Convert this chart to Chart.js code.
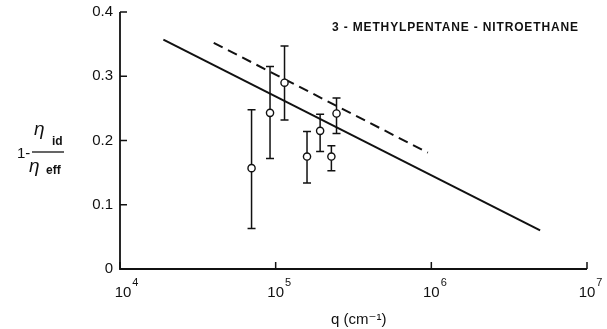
<!DOCTYPE html>
<html>
<head>
<meta charset="utf-8">
<script src="https://cdn.jsdelivr.net/npm/chart.js@4.4.1/dist/chart.umd.min.js"></script>
<style>
html,body{margin:0;padding:0;background:#fff;}
#wrap{width:607px;height:329px;position:relative;}
</style>
</head>
<body>
<div id="wrap"><canvas id="c" width="607" height="329"></canvas></div>
<script>
// Measured points: q (cm^-1) and 1 - eta_id/eta_eff, with error bar limits
const qValues   = [7.0e4, 9.2e4, 1.14e5, 1.59e5, 1.93e5, 2.28e5, 2.46e5];
const yValues   = [0.157, 0.243, 0.290, 0.175, 0.215, 0.175, 0.242];
const yUpper    = [0.248, 0.315, 0.347, 0.214, 0.241, 0.192, 0.266];
const yLower    = [0.063, 0.172, 0.232, 0.134, 0.183, 0.153, 0.211];
// Theory lines (end points)
const solidQ    = [1.9e4, 5.0e6];
const solidY    = [0.357, 0.060];
const dashedQ   = [4.0e4, 9.5e5];
const dashedY   = [0.352, 0.181];
// Axis ticks
const xTickExps = [4, 5, 6, 7];
const yTicks    = [0, 0.1, 0.2, 0.3, 0.4];
const yTickLabels = ['0', '0.1', '0.2', '0.3', '0.4'];
const chartTitle = '3 - METHYLPENTANE - NITROETHANE';
const xTitle = 'q (cm⁻¹)';

const FONT = '"Liberation Sans", "DejaVu Sans", sans-serif';
const INK = '#111';

const decor = {
  id: 'decor',
  beforeDatasetsDraw(chart) {
    const ctx = chart.ctx, xs = chart.scales.x, ys = chart.scales.y;
    ctx.save();
    ctx.strokeStyle = INK; ctx.lineWidth = 1.5;
    for (let i = 0; i < qValues.length; i++) {
      const px = xs.getPixelForValue(qValues[i]);
      const pt = ys.getPixelForValue(yUpper[i]);
      const pb = ys.getPixelForValue(yLower[i]);
      ctx.beginPath();
      ctx.moveTo(px, pt); ctx.lineTo(px, pb);
      ctx.moveTo(px - 4, pt); ctx.lineTo(px + 4, pt);
      ctx.moveTo(px - 4, pb); ctx.lineTo(px + 4, pb);
      ctx.stroke();
    }
    ctx.restore();
  },
  afterDraw(chart) {
    const ctx = chart.ctx, xs = chart.scales.x, ys = chart.scales.y;
    const a = chart.chartArea;
    ctx.save();
    ctx.strokeStyle = INK; ctx.fillStyle = INK; ctx.lineWidth = 1.8;
    // axes (left and bottom)
    ctx.beginPath();
    ctx.moveTo(a.left, a.top); ctx.lineTo(a.left, a.bottom); ctx.lineTo(a.right, a.bottom);
    ctx.stroke();
    // inside ticks
    ctx.lineWidth = 1.5;
    ctx.beginPath();
    yTicks.forEach(v => { const p = ys.getPixelForValue(v); ctx.moveTo(a.left, p); ctx.lineTo(a.left + 7, p); });
    xTickExps.forEach(e => { const p = xs.getPixelForValue(Math.pow(10, e)); ctx.moveTo(p, a.bottom); ctx.lineTo(p, a.bottom - 7); });
    ctx.stroke();
    // y tick labels
    ctx.font = '15px ' + FONT;
    ctx.textAlign = 'right'; ctx.textBaseline = 'middle';
    yTicks.forEach((v, i) => ctx.fillText(yTickLabels[i], a.left - 7, ys.getPixelForValue(v)));
    // x tick labels 10^n
    xTickExps.forEach((e, i) => {
      const p = xs.getPixelForValue(Math.pow(10, e)) + (i === 0 ? 3 : 0);
      ctx.font = '15px ' + FONT; ctx.textAlign = 'center'; ctx.textBaseline = 'alphabetic';
      ctx.fillText('10', p, a.bottom + 28);
      const w = ctx.measureText('10').width;
      ctx.font = '11px ' + FONT; ctx.textAlign = 'left';
      ctx.fillText(String(e), p + w / 2 + 1, a.bottom + 17);
    });
    // x axis title
    ctx.font = '15px ' + FONT; ctx.textAlign = 'left'; ctx.textBaseline = 'alphabetic';
    ctx.fillText(xTitle, 331, 324);
    // chart title
    ctx.font = 'bold 12px ' + FONT;
    const tw = ctx.measureText(chartTitle).width;
    const target = 246;
    ctx.letterSpacing = ((target - tw) / (chartTitle.length - 1)).toFixed(2) + 'px';
    ctx.textAlign = 'left';
    ctx.fillText(chartTitle, 332, 31);
    ctx.letterSpacing = '0px';
    // y axis title: 1 - eta_id / eta_eff
    ctx.font = '15px ' + FONT; ctx.textBaseline = 'middle';
    ctx.fillText('1-', 17, 154);
    ctx.lineWidth = 1.3;
    ctx.beginPath(); ctx.moveTo(32, 152); ctx.lineTo(64, 152); ctx.stroke();
    ctx.textBaseline = 'alphabetic';
    ctx.font = 'italic 19px ' + FONT;
    ctx.fillText('η', 34, 135);
    ctx.fillText('η', 29, 172);
    ctx.font = 'bold 12px ' + FONT;
    ctx.fillText('id', 52, 145);
    ctx.fillText('eff', 46, 174);
    ctx.restore();
  }
};

new Chart(document.getElementById('c'), {
  type: 'scatter',
  data: {
    datasets: [
      {
        label: 'data',
        data: qValues.map((q, i) => ({ x: q, y: yValues[i] })),
        pointRadius: 3.6, pointHoverRadius: 3.6,
        pointBackgroundColor: '#fff', pointBorderColor: INK, pointBorderWidth: 1.4,
        showLine: false, order: 0
      },
      {
        label: 'solid',
        data: solidQ.map((q, i) => ({ x: q, y: solidY[i] })),
        showLine: true, borderColor: INK, borderWidth: 2, pointRadius: 0, order: 1
      },
      {
        label: 'dashed',
        data: dashedQ.map((q, i) => ({ x: q, y: dashedY[i] })),
        showLine: true, borderColor: INK, borderWidth: 2, borderDash: [10, 6], pointRadius: 0, order: 2
      }
    ]
  },
  options: {
    responsive: false, animation: false, devicePixelRatio: 1,
    layout: { padding: { left: 120, right: 20, top: 12, bottom: 60 } },
    plugins: { legend: { display: false }, tooltip: { enabled: false }, title: { display: false } },
    scales: {
      x: { type: 'logarithmic', min: 1e4, max: 1e7, display: false },
      y: { type: 'linear', min: 0, max: 0.4, display: false }
    }
  },
  plugins: [decor]
});
</script>
</body>
</html>
